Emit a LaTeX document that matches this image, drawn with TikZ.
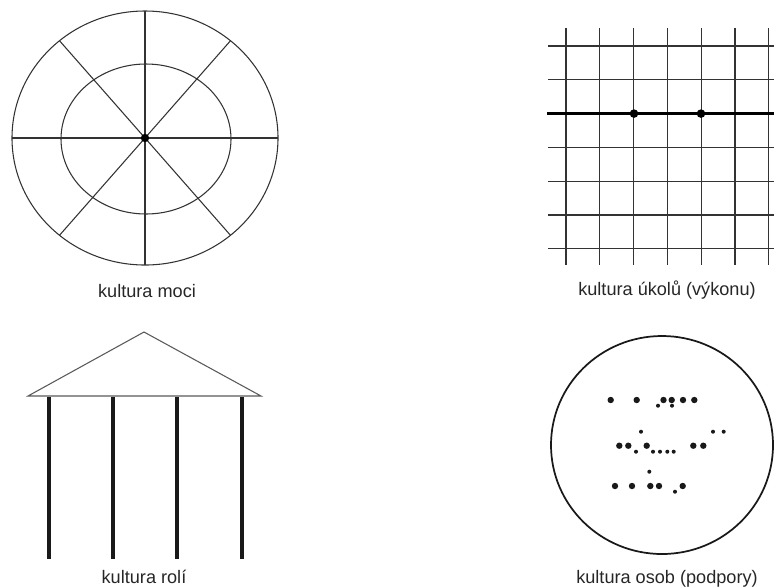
\documentclass[tikz,border=0pt]{standalone}
\usepackage{fontspec}
\setmainfont{Liberation Sans}
\usepackage{tikz}

\begin{document}
\begin{tikzpicture}[
    x=0.75pt, y=-0.75pt,
    thin line/.style={draw=black!80, line width=0.8pt},
    pillar/.style={draw=black!90, line width=3.2pt},
    label/.style={anchor=base, font=\fontsize{13.6}{16}\selectfont, text=black!85},
    bigdot/.style={fill=black!90, radius=3.2},
    smalldot/.style={fill=black!90, radius=2}
]
    \useasboundingbox (0,0) rectangle (774,587);

    % kultura moci
    \coordinate (hub) at (145,138);
    \draw [thin line] (hub) ellipse [x radius=133, y radius=127];
    \draw [thin line] (146,139) ellipse [x radius=85, y radius=75];
    \draw [thin line] (12,138) -- (278,138);
    \draw [thin line] (145,11) -- (145,265);
    \foreach \a in {50,130,230,310}
        \draw [thin line] (hub) -- ++(\a:133 and 127);
    \fill [black] (hub) circle [radius=4.2];
    \node [label] (moci) at (147,297) {kultura moci};

    % kultura úkolů
    \foreach \i in {0,...,6}
        \draw [thin line] (566+33.8*\i,28) -- (566+33.8*\i,265);
    \foreach \j in {0,1,3,4,5,6}
        \draw [thin line] (548,46+33.8*\j) -- (774,46+33.8*\j);
    \draw [black, line width=2.8pt] (547,113.6) -- (774,113.6);
    \fill [black] (634,113.6) circle [radius=4.3] (701,113.6) circle [radius=4.3];
    \node [label] (ukolu) at (667,295) {kultura úkolů (výkonu)};

    % kultura rolí
    \coordinate (apex) at (144,332);
    \draw [thin line, draw=black!65] (28,396) -- (apex) -- (261,396) -- cycle;
    \foreach \x in {49,113,177,242}
        \draw [pillar] (\x,397) -- (\x,559);
    \node [label] (roli) at (144,583) {kultura rolí};

    % kultura osob
    \draw [black!90, line width=1.3pt] (662,445) ellipse [x radius=111, y radius=109];
    \foreach \x/\y in {610.7/400, 636.7/400, 663.5/400, 671.7/400, 683/400, 694.3/400,
                       619.3/445.7, 628.3/445.7, 646.7/445.7, 693.3/445.7, 703.3/445.7,
                       615/486, 632/486, 650.3/486, 659/486, 682.7/486}
        \fill [bigdot] (\x,\y) circle;
    \foreach \x/\y in {658/405.7, 672/405.7, 641/431.7, 713/431.7, 723.7/431.7,
                       636/451.7, 653/451.7, 660/451.7, 667.3/451.7, 673.7/451.7,
                       649.3/471.7, 675/491.7}
        \fill [smalldot] (\x,\y) circle;
    \node [label] (osob) at (667,583) {kultura osob (podpory)};
\end{tikzpicture}
\end{document}
